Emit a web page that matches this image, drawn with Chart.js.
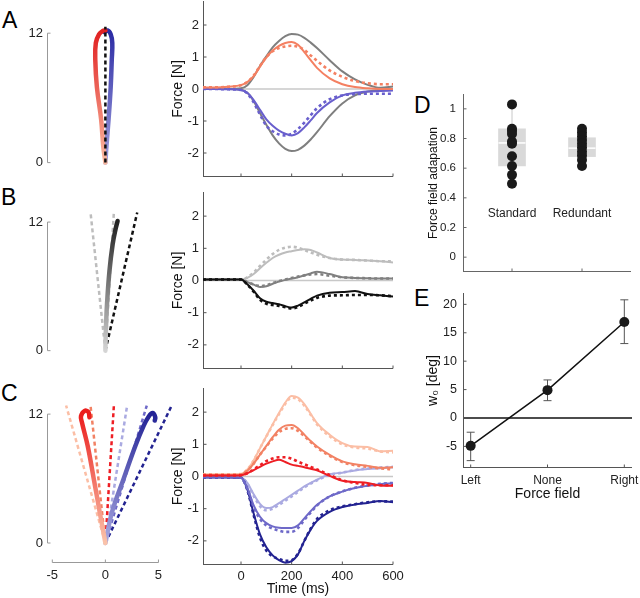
<!DOCTYPE html>
<html>
<head>
<meta charset="utf-8">
<script src="https://cdn.jsdelivr.net/npm/chart.js@4.4.1/dist/chart.umd.min.js"></script>
<style>
  html, body { margin: 0; padding: 0; background: #fff; overflow: hidden; }
  #fig { position: relative; width: 640px; height: 598px; font-family: "Liberation Sans", Arial, sans-serif; }
  .lbl { position: absolute; font-size: 23px; line-height: 23px; color: #000; }
</style>
</head>
<body>
<div id="fig">
  <div class="lbl" style="left:2px;top:9px">A</div>
  <div class="lbl" style="left:1px;top:186px">B</div>
  <div class="lbl" style="left:1px;top:382px">C</div>
  <div class="lbl" style="left:414px;top:94px">D</div>
  <div class="lbl" style="left:414px;top:287px">E</div>
</div>
<script>
// ---------- data ----------
// time base shared by all force traces (ms)
const time = [-150, -100, -50, 0, 25, 50, 75, 100, 125, 150, 175, 200, 225, 250, 275, 300, 350, 400, 450, 500, 550, 600];

// A: force traces [N]
const aGrayUp    = [0, 0, 0, 0.02, 0.12, 0.38, 0.72, 1.02, 1.3, 1.5, 1.65, 1.72, 1.7, 1.6, 1.45, 1.28, 0.9, 0.55, 0.3, 0.13, 0.04, 0.08];
const aGrayDown  = [0, 0, 0, -0.02, -0.12, -0.38, -0.75, -1.12, -1.45, -1.7, -1.87, -1.94, -1.9, -1.77, -1.58, -1.35, -0.85, -0.45, -0.2, -0.08, -0.03, -0.02];
const aOrange    = [0.05, 0.05, 0.07, 0.12, 0.22, 0.4, 0.7, 0.98, 1.2, 1.35, 1.44, 1.47, 1.38, 1.15, 0.9, 0.66, 0.33, 0.15, 0.06, 0.02, 0, 0];
const aOrangeDot = [0.05, 0.05, 0.07, 0.12, 0.22, 0.42, 0.72, 1.0, 1.18, 1.28, 1.33, 1.35, 1.32, 1.22, 1.05, 0.88, 0.58, 0.38, 0.25, 0.18, 0.15, 0.15];
const aBlue      = [0, 0, -0.01, -0.03, -0.12, -0.35, -0.65, -0.95, -1.15, -1.3, -1.4, -1.45, -1.38, -1.2, -0.98, -0.75, -0.42, -0.2, -0.12, -0.08, -0.06, -0.05];
const aBlueDot   = [0, 0, -0.01, -0.03, -0.14, -0.42, -0.8, -1.15, -1.32, -1.42, -1.45, -1.4, -1.25, -1.05, -0.82, -0.6, -0.32, -0.2, -0.16, -0.15, -0.15, -0.15];

// B: force traces [N]
const bLight     = [0.03, 0.03, 0.03, 0.03, 0.08, 0.2, 0.38, 0.55, 0.7, 0.8, 0.87, 0.91, 0.95, 0.97, 0.95, 0.87, 0.7, 0.65, 0.64, 0.62, 0.6, 0.56];
const bLightDot  = [0.03, 0.03, 0.03, 0.03, 0.1, 0.25, 0.45, 0.65, 0.82, 0.95, 1.02, 1.05, 1.02, 0.95, 0.87, 0.8, 0.7, 0.65, 0.64, 0.62, 0.6, 0.6];
const bMid       = [0.03, 0.03, 0.03, 0.03, -0.05, -0.13, -0.2, -0.18, -0.1, -0.03, 0.02, 0.06, 0.1, 0.16, 0.22, 0.27, 0.2, 0.1, 0.08, 0.07, 0.06, 0.06];
const bMidDot    = [0.03, 0.03, 0.03, 0.03, -0.05, -0.12, -0.17, -0.15, -0.08, -0.02, 0.03, 0.08, 0.12, 0.16, 0.19, 0.2, 0.15, 0.1, 0.08, 0.07, 0.06, 0.06];
const bBlack     = [0.03, 0.03, 0.03, 0.03, -0.12, -0.32, -0.55, -0.66, -0.7, -0.74, -0.8, -0.84, -0.78, -0.68, -0.57, -0.47, -0.38, -0.36, -0.33, -0.42, -0.46, -0.5];
const bBlackDot  = [0.03, 0.03, 0.03, 0.03, -0.13, -0.35, -0.6, -0.72, -0.76, -0.79, -0.83, -0.87, -0.82, -0.72, -0.62, -0.54, -0.47, -0.46, -0.45, -0.45, -0.46, -0.49];

// C: force traces [N]
const cPeach     = [0.07, 0.07, 0.07, 0.08, 0.22, 0.5, 0.88, 1.25, 1.62, 1.97, 2.3, 2.5, 2.45, 2.25, 1.95, 1.66, 1.3, 1.04, 0.93, 0.92, 0.78, 0.8];
const cPeachDot  = [0.07, 0.07, 0.07, 0.08, 0.22, 0.5, 0.88, 1.24, 1.6, 1.94, 2.26, 2.45, 2.4, 2.2, 1.92, 1.62, 1.25, 1.0, 0.9, 0.87, 0.78, 0.75];
const cSalmon    = [0.05, 0.05, 0.05, 0.06, 0.18, 0.4, 0.68, 0.95, 1.22, 1.45, 1.58, 1.6, 1.5, 1.3, 1.1, 0.93, 0.67, 0.47, 0.38, 0.33, 0.27, 0.29];
const cSalmonDot = [0.05, 0.05, 0.05, 0.06, 0.18, 0.4, 0.68, 0.93, 1.18, 1.38, 1.48, 1.5, 1.42, 1.25, 1.07, 0.9, 0.64, 0.45, 0.35, 0.3, 0.25, 0.22];
const cRed       = [0.03, 0.03, 0.03, 0.04, 0.1, 0.2, 0.3, 0.4, 0.47, 0.52, 0.45, 0.37, 0.33, 0.29, 0.24, 0.19, 0.02, -0.13, -0.17, -0.2, -0.28, -0.29];
const cRedDot    = [0.03, 0.03, 0.03, 0.04, 0.1, 0.22, 0.35, 0.48, 0.56, 0.6, 0.6, 0.55, 0.46, 0.38, 0.3, 0.22, 0.05, -0.12, -0.2, -0.26, -0.27, -0.27];
const cLav       = [-0.01, -0.01, -0.01, -0.03, -0.2, -0.55, -0.85, -0.98, -0.95, -0.83, -0.7, -0.57, -0.44, -0.31, -0.2, -0.1, 0.07, 0.12, 0.19, 0.23, 0.26, 0.29];
const cLavDot    = [-0.01, -0.01, -0.01, -0.03, -0.22, -0.6, -0.92, -1.05, -1.0, -0.88, -0.75, -0.62, -0.48, -0.34, -0.22, -0.12, 0.05, 0.12, 0.2, 0.25, 0.28, 0.3];
const cMidBlue   = [-0.02, -0.02, -0.02, -0.04, -0.35, -0.9, -1.25, -1.45, -1.55, -1.59, -1.6, -1.6, -1.52, -1.3, -1.08, -0.88, -0.62, -0.47, -0.36, -0.29, -0.24, -0.21];
const cMidBlueDot= [-0.02, -0.02, -0.02, -0.04, -0.38, -0.95, -1.32, -1.52, -1.62, -1.68, -1.72, -1.72, -1.6, -1.35, -1.12, -0.9, -0.62, -0.46, -0.35, -0.28, -0.23, -0.2];
const cNavy      = [-0.03, -0.03, -0.03, -0.04, -0.4, -1.15, -1.8, -2.2, -2.45, -2.6, -2.68, -2.63, -2.42, -2.0, -1.65, -1.38, -1.1, -0.95, -0.87, -0.82, -0.76, -0.8];
const cNavyDot   = [-0.03, -0.03, -0.03, -0.04, -0.42, -1.2, -1.9, -2.3, -2.48, -2.56, -2.62, -2.6, -2.4, -2.0, -1.62, -1.32, -1.05, -0.93, -0.86, -0.8, -0.77, -0.78];

// hand paths (cm)
const aRedX  = [0, -0.2, -0.4, -0.8, -0.95, -0.9, -0.6, -0.25, 0];
const aRedY  = [0, 1.5, 4, 7, 9.5, 11.1, 11.9, 12.2, 12.25];
const aBlueX = [0, 0.1, 0.3, 0.5, 0.6, 0.65, 0.5, 0.2, -0.1];
const aBlueY = [0, 1.5, 4, 7, 9.5, 11.1, 11.9, 12.25, 12.1];
const aDashX = [0];
const aDashY = [12.6];

const bPathX = [0, 0.05, 0.15, 0.38, 0.68, 0.95, 1.15];
const bPathY = [0, 2, 4.3, 7.4, 9.9, 11.3, 12.1];
const bDashX = [-1.4, 0.8, 3.0];
const bDashY = [12.9, 12.9, 12.9];

const cRedPathX  = [0, -0.54, -1.1, -1.67, -2.2, -2.3, -1.95, -1.6, -1.5];
const cRedPathY  = [0, 2.9, 6.0, 9.05, 11.2, 11.8, 12.3, 12.2, 11.7];
const cBluePathX = [0, 0.63, 1.73, 2.83, 3.6, 4.1, 4.46, 4.7, 4.65];
const cBluePathY = [0, 2.9, 6.0, 9.05, 10.9, 11.8, 12.1, 11.7, 11.4];
const cDashX = [-3.7, -1.4, 0.8, 2.05, 3.9, 6.2];
const cDashY = [12.8, 12.8, 12.8, 12.8, 12.8, 12.7];

// D: force field adaptation per subject
const groupNames = ['Standard', 'Redundant'];
const groupPos = [1, 2];
const standardPts  = [1.03, 0.865, 0.85, 0.83, 0.78, 0.765, 0.68, 0.615, 0.555, 0.495];
const redundantPts = [0.865, 0.84, 0.815, 0.79, 0.765, 0.74, 0.71, 0.685, 0.655, 0.615];
const boxQ1  = [0.615, 0.678];
const boxQ3  = [0.865, 0.805];
const boxMed = [0.77, 0.735];
const boxLo  = [0.495, 0.615];
const boxHi  = [1.03, 0.865];

// E: w0 per force field
const fieldNames = ['Left', 'None', 'Right'];
const fieldPos = [1, 2, 3];
const w0Mean = [-4.9, 4.9, 16.9];
const w0Lo = [-7.5, 3.05, 13.1];
const w0Hi = [-2.5, 6.7, 20.8];

// ---------- colours ----------
const GRAY = '#7f7f7f', ORANGE = 'rgb(244,128,98)', BLUE = 'rgb(105,95,205)';
const LIGHT = '#bdbdbd', MID = '#808080', BLACK = '#111';
const PEACH = 'rgb(251,190,165)', SALMON = 'rgb(242,130,100)', RED = 'rgb(238,30,36)';
const LAV = 'rgb(170,170,225)', MIDBLUE = 'rgb(110,105,200)', NAVY = 'rgb(35,35,145)';

Chart.defaults.font.family = '"Liberation Sans", Arial, sans-serif';
Chart.defaults.color = '#222';
Chart.defaults.animation = false;
Chart.defaults.events = [];
Chart.defaults.plugins.legend.display = false;
Chart.defaults.plugins.tooltip.enabled = false;

function seg(ctx, x0, y0, x1, y1) {
  ctx.beginPath(); ctx.moveTo(x0, y0); ctx.lineTo(x1, y1); ctx.stroke();
}

// matlab-ish axes: partial axis lines, inward ticks, zero lines, boxes, error bars, in-plot text
const matPlugin = {
  id: 'mat',
  beforeDatasetsDraw(chart, args, o) {
    const { ctx, chartArea: a, scales: { x, y } } = chart;
    ctx.save();
    if (o.zero) {
      const py = y.getPixelForValue(0);
      ctx.strokeStyle = o.zero.color; ctx.lineWidth = o.zero.width;
      seg(ctx, a.left, py, a.right, py);
    }
    ctx.strokeStyle = o.color || '#555'; ctx.lineWidth = 1;
    if (o.yAxis) {
      const r = o.yAxis === true ? [y.min, y.max] : o.yAxis;
      const px = Math.round(a.left) + 0.5;
      seg(ctx, px, y.getPixelForValue(r[0]), px, y.getPixelForValue(r[1]));
      y.ticks.forEach(t => { const py = y.getPixelForValue(t.value); seg(ctx, px, py, px + 3, py); });
    }
    if (o.xAxis) {
      const r = o.xAxis === true ? [x.min, x.max] : o.xAxis;
      const py = Math.round(a.bottom) - 0.5;
      seg(ctx, x.getPixelForValue(r[0]), py, x.getPixelForValue(r[1]), py);
      x.ticks.forEach(t => { const px = x.getPixelForValue(t.value); seg(ctx, px, py, px, py - 3); });
    }
    if (o.whisk) {
      ctx.strokeStyle = '#c8c8c8';
      o.whisk.pos.forEach((p, i) => {
        const px = x.getPixelForValue(p);
        const lo = y.getPixelForValue(o.whisk.lo[i]), hi = y.getPixelForValue(o.whisk.hi[i]);
        seg(ctx, px, lo, px, hi);
        seg(ctx, px - 4, lo, px + 4, lo);
        seg(ctx, px - 4, hi, px + 4, hi);
      });
    }
    if (o.err) {
      ctx.strokeStyle = '#555';
      o.err.pos.forEach((p, i) => {
        const px = x.getPixelForValue(p);
        const lo = y.getPixelForValue(o.err.lo[i]), hi = y.getPixelForValue(o.err.hi[i]);
        seg(ctx, px, lo, px, hi);
        seg(ctx, px - 4, lo, px + 4, lo);
        seg(ctx, px - 4, hi, px + 4, hi);
      });
    }
    ctx.restore();
  },
  afterDatasetDraw(chart, args, o) {
    if (!o.median || args.index !== o.median.index) return;
    const { ctx, scales: { x, y } } = chart;
    ctx.save();
    ctx.strokeStyle = '#fff'; ctx.lineWidth = 1.5;
    o.median.pos.forEach((p, i) => {
      const px = x.getPixelForValue(p), py = y.getPixelForValue(o.median.val[i]);
      seg(ctx, px - 13.5, py, px + 13.5, py);
    });
    ctx.restore();
  },
  afterDatasetsDraw(chart, args, o) {
    if (!o.texts) return;
    const { ctx, scales: { x, y } } = chart;
    ctx.save();
    ctx.font = '12px "Liberation Sans", Arial, sans-serif';
    ctx.fillStyle = '#222'; ctx.textAlign = 'center'; ctx.textBaseline = 'middle';
    o.texts.forEach(t => ctx.fillText(t.t, x.getPixelForValue(t.x), y.getPixelForValue(t.y)));
    ctx.restore();
  }
};
Chart.register(matPlugin);

// ---------- layout helpers ----------
const fig = document.getElementById('fig');
const PAD = 16;
function makeCanvas(area, yW, xH) {
  const left = area.l - yW - PAD, top = area.t - PAD;
  const w = area.r + PAD - left, h = area.b + xH + PAD - top;
  const cv = document.createElement('canvas');
  cv.width = w; cv.height = h;
  cv.style.cssText = `position:absolute;left:${left}px;top:${top}px;width:${w}px;height:${h}px`;
  fig.appendChild(cv);
  return cv;
}
const fixY = w => s => { s.width = w; s.paddingTop = 0; s.paddingBottom = 0; };
const fixX = h => s => { s.height = h; s.paddingLeft = 0; s.paddingRight = 0; };
const setTicks = vals => s => { s.ticks = vals.map(v => ({ value: v })); };
const pts = (xs, ys) => xs.map((v, i) => ({ x: v, y: ys[i] }));
const noGrid = { display: false, drawTicks: false };

function vgrad(c0, c1) {
  return ctx => {
    const ch = ctx.chart, y = ch.scales.y;
    if (!ch.chartArea || !y) return c1;
    const g = ch.ctx.createLinearGradient(0, y.getPixelForValue(0), 0, y.getPixelForValue(12));
    g.addColorStop(0, c0); g.addColorStop(1, c1);
    return g;
  };
}

// ---------- force panels ----------
function forceChart(area, series, showX) {
  const xH = showX ? 33 : 0;
  const cv = makeCanvas(area, 33, xH);
  return new Chart(cv, {
    type: 'line',
    data: {
      datasets: series.map(s => ({
        data: pts(time, s.d),
        borderColor: s.c,
        borderWidth: s.dot ? 2.6 : 2,
        borderDash: s.dot ? [3, 3] : [],
        pointRadius: 0,
        cubicInterpolationMode: 'monotone',
        fill: false
      }))
    },
    options: {
      responsive: false,
      layout: { padding: PAD },
      plugins: { mat: { yAxis: true, xAxis: true, color: '#555', zero: { color: '#c8c8c8', width: 1.5 } } },
      scales: {
        x: {
          type: 'linear', min: -150, max: 600,
          afterBuildTicks: setTicks([0, 200, 400, 600]),
          afterFit: fixX(xH),
          grid: noGrid, border: { display: false },
          ticks: { display: showX, font: { size: 13 }, padding: 4, callback: v => String(v) },
          title: { display: showX, text: 'Time (ms)', font: { size: 14 }, padding: 0, color: '#111' }
        },
        y: {
          min: -2.75, max: 2.75,
          afterBuildTicks: setTicks([-2, -1, 0, 1, 2]),
          afterFit: fixY(33),
          grid: noGrid, border: { display: false },
          ticks: { font: { size: 13 }, padding: 4, callback: v => String(v) },
          title: { display: true, text: 'Force [N]', font: { size: 14 }, padding: 0, color: '#111' }
        }
      }
    }
  });
}

const S = (d, c, dot) => ({ d, c, dot });
forceChart({ l: 203, t: 1, r: 393, b: 177 }, [
  S(aOrangeDot, ORANGE, true), S(aBlueDot, BLUE, true),
  S(aOrange, ORANGE), S(aBlue, BLUE),
  S(aGrayUp, GRAY), S(aGrayDown, GRAY)
], false);

forceChart({ l: 203, t: 192, r: 393, b: 369 }, [
  S(bBlackDot, BLACK, true), S(bBlack, BLACK),
  S(bMidDot, MID, true), S(bMid, MID),
  S(bLightDot, LIGHT, true), S(bLight, LIGHT)
], false);

forceChart({ l: 203, t: 388, r: 393, b: 565 }, [
  S(cRedDot, RED, true), S(cRed, RED),
  S(cSalmonDot, SALMON, true), S(cSalmon, SALMON),
  S(cMidBlueDot, MIDBLUE, true), S(cMidBlue, MIDBLUE),
  S(cNavyDot, NAVY, true), S(cNavy, NAVY),
  S(cPeachDot, PEACH, true), S(cPeach, PEACH),
  S(cLavDot, LAV, true), S(cLav, LAV)
], true);

// ---------- hand path panels ----------
function trajChart(area, yMin, paths, dashes, dashOnTop, showX) {
  const xH = showX ? 22 : 0;
  const cv = makeCanvas(area, 26, xH);
  const dashDs = dashes.map(d => ({
    data: [{ x: 0, y: 0 }, { x: d.x, y: d.y }],
    borderColor: d.c, borderWidth: 2.5, borderDash: [4, 3],
    pointRadius: 0, showLine: true, clip: false
  }));
  const pathDs = paths.map(p => ({
    data: pts(p.x, p.y),
    borderColor: vgrad(p.c0, p.c1), borderWidth: 4.5, borderCapStyle: 'round',
    pointRadius: 0, showLine: true, tension: 0.4, clip: false
  }));
  return new Chart(cv, {
    type: 'scatter',
    data: { datasets: dashOnTop ? dashDs.concat(pathDs) : pathDs.concat(dashDs) },
    options: {
      responsive: false,
      layout: { padding: PAD },
      plugins: { mat: { yAxis: [0, 12], xAxis: showX ? [-5, 5] : false, color: '#999' } },
      scales: {
        x: {
          type: 'linear', min: -5.5, max: 7.5, display: showX,
          afterBuildTicks: setTicks([-5, 0, 5]),
          afterFit: fixX(xH),
          grid: noGrid, border: { display: false },
          ticks: { font: { size: 13 }, padding: 5, callback: v => String(v) }
        },
        y: {
          min: yMin, max: 13.5,
          afterBuildTicks: setTicks([0, 12]),
          afterFit: fixY(26),
          grid: noGrid, border: { display: false },
          ticks: { font: { size: 13 }, padding: 4, callback: v => String(v) }
        }
      }
    }
  });
}

trajChart({ l: 47, t: 17, r: 185, b: 168 }, -0.5,
  [{ x: aRedX, y: aRedY, c0: 'rgb(250,185,160)', c1: 'rgb(225,35,35)' },
   { x: aBlueX, y: aBlueY, c0: 'rgb(160,160,222)', c1: 'rgb(45,45,165)' }],
  aDashX.map((v, i) => ({ x: v, y: aDashY[i], c: BLACK })), true, false);

trajChart({ l: 47, t: 206, r: 185, b: 356 }, -0.5,
  [{ x: bPathX, y: bPathY, c0: '#d4d4d4', c1: '#222' }],
  bDashX.map((v, i) => ({ x: v, y: bDashY[i], c: [LIGHT, LIGHT, BLACK][i] })), false, false);

trajChart({ l: 47, t: 398, r: 185, b: 563 }, -1.86,
  [{ x: cRedPathX, y: cRedPathY, c0: 'rgb(250,195,170)', c1: 'rgb(235,30,30)' },
   { x: cBluePathX, y: cBluePathY, c0: 'rgb(170,170,225)', c1: 'rgb(35,35,150)' }],
  cDashX.map((v, i) => ({ x: v, y: cDashY[i], c: [PEACH, SALMON, RED, LAV, MIDBLUE, NAVY][i] })), false, true);

// ---------- D: box plot ----------
(function () {
  const area = { l: 463, t: 94, r: 631, b: 272 };
  const cv = makeCanvas(area, 37, 0);
  new Chart(cv, {
    type: 'scatter',
    data: {
      datasets: [
        {
          data: pts(standardPts.map(() => groupPos[0]), standardPts).concat(pts(redundantPts.map(() => groupPos[1]), redundantPts)),
          pointRadius: 5, pointBackgroundColor: '#1a1a1a', pointBorderWidth: 0, order: 0
        },
        {
          type: 'bar',
          data: groupPos.map((p, i) => ({ x: p, y: [boxQ1[i], boxQ3[i]] })),
          backgroundColor: '#d9d9d9', borderWidth: 0, barThickness: 27, grouped: false, order: 1
        }
      ]
    },
    options: {
      responsive: false,
      layout: { padding: PAD },
      plugins: {
        mat: {
          yAxis: true, xAxis: true, color: '#666',
          whisk: { pos: groupPos, lo: boxLo, hi: boxHi },
          median: { index: 1, pos: groupPos, val: boxMed },
          texts: groupNames.map((t, i) => ({ t, x: groupPos[i], y: 0.29 }))
        }
      },
      scales: {
        x: {
          type: 'linear', min: 0.3, max: 2.7, offset: false,
          afterBuildTicks: setTicks(groupPos),
          afterFit: fixX(0),
          grid: { display: false, drawTicks: false, offset: false }, border: { display: false },
          ticks: { display: false }
        },
        y: {
          type: 'linear', min: -0.1, max: 1.1, beginAtZero: false,
          afterBuildTicks: setTicks([0, 0.2, 0.4, 0.6, 0.8, 1]),
          afterFit: fixY(37),
          grid: noGrid, border: { display: false },
          ticks: { font: { size: 11.5 }, padding: 7, callback: v => String(+v.toFixed(1)) },
          title: { display: true, text: 'Force field adapation', font: { size: 12 }, padding: 0, color: '#111' }
        }
      }
    }
  });
})();

// ---------- E: w0 per force field ----------
(function () {
  const area = { l: 463, t: 293, r: 632, b: 468 };
  const cv = makeCanvas(area, 38, 35);
  new Chart(cv, {
    type: 'line',
    data: {
      datasets: [{
        data: pts(fieldPos, w0Mean),
        borderColor: '#111', borderWidth: 1.5,
        pointRadius: 5, pointBackgroundColor: '#1a1a1a', pointBorderWidth: 0,
        tension: 0
      }]
    },
    options: {
      responsive: false,
      layout: { padding: PAD },
      plugins: {
        mat: {
          yAxis: true, xAxis: true, color: '#555',
          zero: { color: '#111', width: 1.5 },
          err: { pos: fieldPos, lo: w0Lo, hi: w0Hi }
        }
      },
      scales: {
        x: {
          type: 'linear', min: 0.9, max: 3.1,
          afterBuildTicks: setTicks(fieldPos),
          afterFit: fixX(35),
          grid: noGrid, border: { display: false },
          ticks: { font: { size: 12 }, padding: 5, callback: v => fieldNames[v - 1] },
          title: { display: true, text: 'Force field', font: { size: 14 }, padding: 0, color: '#111' }
        },
        y: {
          min: -8.8, max: 22,
          afterBuildTicks: setTicks([-5, 0, 5, 10, 15, 20]),
          afterFit: fixY(38),
          grid: noGrid, border: { display: false },
          ticks: { font: { size: 12.5 }, padding: 6, callback: v => String(v) },
          title: { display: true, text: 'w\u2080 [deg]', font: { size: 14 }, padding: 0, color: '#111' }
        }
      }
    }
  });
})();
</script>
</body>
</html>
